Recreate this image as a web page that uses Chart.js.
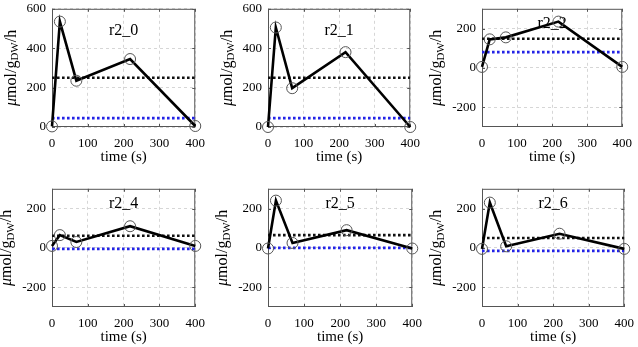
<!DOCTYPE html>
<html>
<head>
<meta charset="utf-8">
<script src="https://cdn.jsdelivr.net/npm/chart.js@4.4.0/dist/chart.umd.min.js"></script>
<style>
  html, body { margin: 0; padding: 0; background: #fff; }
  #wrap { position: relative; width: 638px; height: 347px; overflow: hidden; }
  #wrap canvas { position: absolute; }
</style>
</head>
<body>
<div id="wrap"></div>
<script>
// sample times (s), shared by all panels
const times = [0, 22, 68, 218, 400];

// flux values per panel
const r2_0 = [3, 535, 235, 345, 5];
const r2_1 = [0, 505, 197, 380, 0];
const r2_2 = [5, 145, 155, 235, 5];
const r2_4 = [10, 65, 30, 110, 10];
const r2_5 = [-3, 240, 25, 90, -3];
const r2_6 = [-5, 230, 8, 72, -5];

const panelNames = ['r2_0', 'r2_1', 'r2_2', 'r2_4', 'r2_5', 'r2_6'];
const panelValues = [r2_0, r2_1, r2_2, r2_4, r2_5, r2_6];
const blackLevels = [250, 250, 148, 62, 65, 50];
const blueLevels = [45, 45, 80, -5, 0, -15];

// axis ticks
const xTicks = [0, 100, 200, 300, 400];
const yTicksTall = [0, 200, 400, 600];
const yTicksWide = [-200, 0, 200];

// layout (page pixels of each plot box) and axis limits
const boxes = [
    { l: 52, t: 5, r: 200, b: 127 },
    { l: 268, t: 5, r: 415, b: 127 },
    { l: 482, t: 5, r: 627, b: 127 },
    { l: 52, t: 185, r: 200, b: 307 },
    { l: 268, t: 185, r: 417, b: 307 },
    { l: 482, t: 185, r: 629, b: 307 }
];
const yRanges = [[0, 600], [0, 600], [-300, 300], [-300, 300], [-300, 300], [-300, 300]];
const labelAt = [[200, 490], [200, 490], [200, 225], [200, 225], [200, 225], [200, 225]];

const FONT = "'Liberation Serif', 'DejaVu Serif', serif";
const PADL = 62, PADT = 10, PADR = 14, PADB = 48, YW = 56;
const FRAME = '#555555';

const matlabAxes = {
    id: 'matlabAxes',
    beforeDatasetsDraw(chart, args, opts) {
        const { ctx, chartArea: a, scales } = chart;
        ctx.save();
        // panel label (drawn under the data)
        ctx.fillStyle = '#000';
        ctx.font = '16px ' + FONT;
        ctx.textAlign = 'center';
        ctx.textBaseline = 'middle';
        ctx.fillText(opts.name, scales.x.getPixelForValue(opts.at[0]), scales.y.getPixelForValue(opts.at[1]));
        // box
        ctx.strokeStyle = FRAME;
        ctx.lineWidth = 1;
        ctx.strokeRect(a.left + 0.5, a.top + 0.5, a.right - a.left - 1, a.bottom - a.top - 1);
        // inward tick marks
        ctx.beginPath();
        scales.x.ticks.forEach(t => {
            const px = Math.round(scales.x.getPixelForValue(t.value)) + 0.5;
            ctx.moveTo(px, a.bottom); ctx.lineTo(px, a.bottom - 3);
            ctx.moveTo(px, a.top); ctx.lineTo(px, a.top + 3);
        });
        scales.y.ticks.forEach(t => {
            const py = Math.round(scales.y.getPixelForValue(t.value)) + 0.5;
            ctx.moveTo(a.left, py); ctx.lineTo(a.left + 3, py);
            ctx.moveTo(a.right, py); ctx.lineTo(a.right - 3, py);
        });
        ctx.stroke();
        ctx.restore();
    },
    afterDraw(chart) {
        const { ctx, chartArea: a, scales } = chart;
        ctx.save();
        ctx.fillStyle = '#000';
        // x title
        ctx.font = '15px ' + FONT;
        ctx.textAlign = 'center';
        ctx.textBaseline = 'middle';
        ctx.fillText('time (s)', (a.left + a.right) / 2, a.bottom + 30);

        // y title with subscript, rotated
        ctx.font = '13px ' + FONT;
        let maxW = 0;
        scales.y.ticks.forEach(t => { maxW = Math.max(maxW, ctx.measureText(t.label).width); });
        const cx = a.left - 6 - maxW - 16;
        const cy = (a.top + a.bottom) / 2;
        const parts = [
            { s: '\u03bc', f: 'italic 16px ' + FONT, dy: 0 },
            { s: 'mol/g', f: '16px ' + FONT, dy: 0 },
            { s: 'DW', f: '11px ' + FONT, dy: 4 },
            { s: '/h', f: '16px ' + FONT, dy: 0 }
        ];
        let total = 0;
        parts.forEach(p => { ctx.font = p.f; p.w = ctx.measureText(p.s).width; total += p.w; });
        ctx.translate(cx, cy);
        ctx.rotate(-Math.PI / 2);
        ctx.textAlign = 'left';
        ctx.textBaseline = 'middle';
        let x = -total / 2;
        parts.forEach(p => {
            ctx.font = p.f;
            ctx.fillText(p.s, x, p.dy + 1);
            x += p.w;
        });
        ctx.restore();
    }
};

const wrap = document.getElementById('wrap');

panelNames.forEach((name, i) => {
    const box = boxes[i];
    const canvas = document.createElement('canvas');
    const w = (box.r - box.l) + PADL + PADR;
    const h = (box.b - box.t) + PADT + PADB;
    canvas.width = w;
    canvas.height = h;
    canvas.style.width = w + 'px';
    canvas.style.height = h + 'px';
    canvas.style.left = (box.l - PADL) + 'px';
    canvas.style.top = (box.t - PADT) + 'px';
    wrap.appendChild(canvas);

    const yTicks = yRanges[i][0] === 0 ? yTicksTall : yTicksWide;
    const vals = panelValues[i];

    new Chart(canvas.getContext('2d'), {
        type: 'line',
        data: {
            datasets: [
                {
                    data: times.map((t, k) => ({ x: t, y: vals[k] })),
                    borderColor: '#000',
                    borderWidth: 2.6,
                    pointRadius: 5.5,
                    pointBorderWidth: 1,
                    pointBorderColor: '#555',
                    pointBackgroundColor: 'rgba(0,0,0,0)',
                    tension: 0,
                    clip: false
                },
                {
                    data: [{ x: 0, y: blackLevels[i] }, { x: 400, y: blackLevels[i] }],
                    borderColor: '#111',
                    borderWidth: 2.6,
                    borderDash: [2.6, 2.4],
                    borderCapStyle: 'butt',
                    pointRadius: 0
                },
                {
                    data: [{ x: 0, y: blueLevels[i] }, { x: 400, y: blueLevels[i] }],
                    borderColor: '#2323e6',
                    borderWidth: 2.6,
                    borderDash: [2.6, 2.4],
                    borderCapStyle: 'butt',
                    pointRadius: 0
                }
            ]
        },
        options: {
            responsive: false,
            animation: false,
            devicePixelRatio: 1,
            layout: { padding: { left: PADL - YW, top: PADT, right: PADR, bottom: 0 } },
            plugins: {
                legend: { display: false },
                tooltip: { enabled: false },
                matlabAxes: { name: name, at: labelAt[i] }
            },
            scales: {
                x: {
                    type: 'linear',
                    min: 0,
                    max: 400,
                    afterBuildTicks: s => { s.ticks = xTicks.map(v => ({ value: v })); },
                    afterFit: s => { s.height = PADB; },
                    ticks: { autoSkip: false, maxRotation: 0, padding: 9, color: '#000', font: { family: FONT, size: 13 } },
                    grid: { color: '#d6d6d6', lineWidth: 1, drawTicks: false },
                    border: { display: false, dash: [3, 3] }
                },
                y: {
                    type: 'linear',
                    min: yRanges[i][0],
                    max: yRanges[i][1],
                    afterBuildTicks: s => { s.ticks = yTicks.map(v => ({ value: v })); },
                    afterFit: s => { s.width = YW; },
                    ticks: { autoSkip: false, padding: 6, color: '#000', font: { family: FONT, size: 13 } },
                    grid: { color: '#d6d6d6', lineWidth: 1, drawTicks: false },
                    border: { display: false, dash: [3, 3] }
                }
            }
        },
        plugins: [matlabAxes]
    });
});
</script>
</body>
</html>
